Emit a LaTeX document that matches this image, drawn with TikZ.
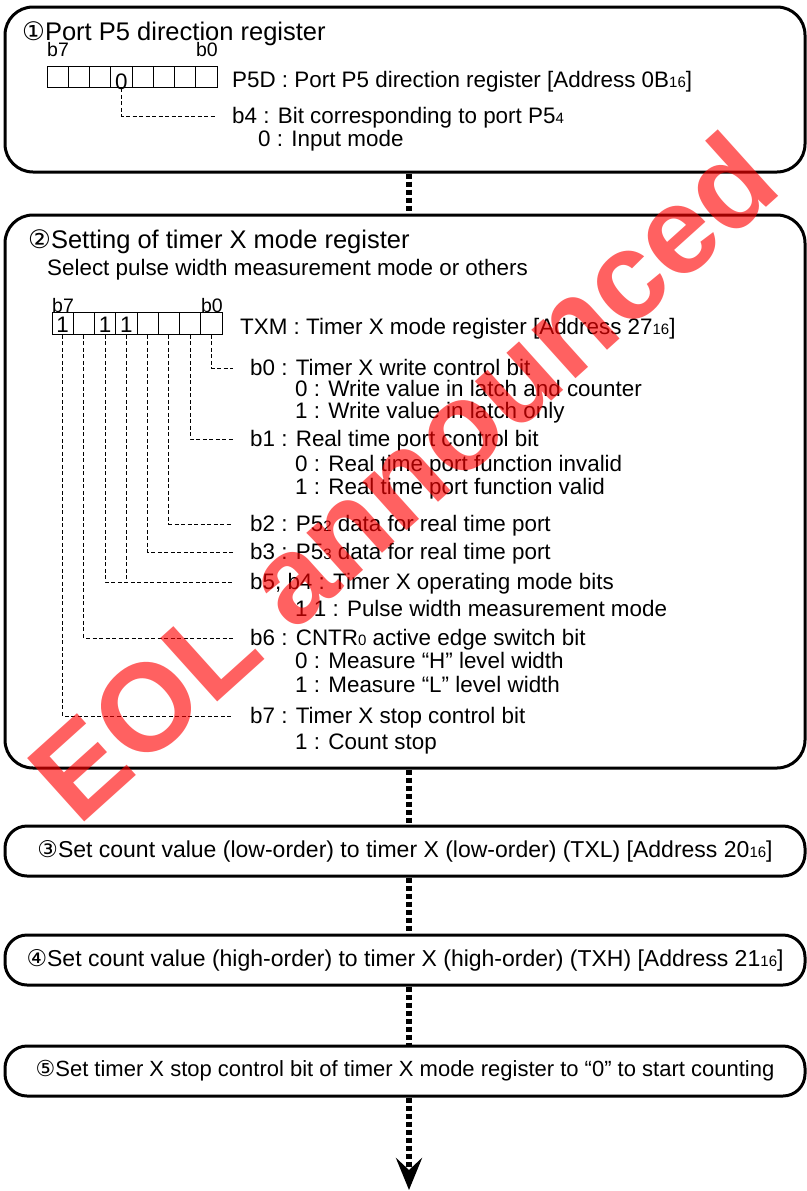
\documentclass[tikz,border=0pt]{standalone}
\usepackage{fontspec}
\setmainfont{Liberation Sans}
\newfontfamily\circfont{DejaVu Sans}
\usetikzlibrary{arrows.meta}
\newcommand{\lo}[1]{{\fontsize{15}{15}\selectfont #1}}
\newcommand{\cn}[1]{{\circfont #1}}

\begin{document}
\begin{tikzpicture}[x=1pt,y=-1pt,
    txt/.style={anchor=west,inner sep=0pt,text height=16pt,text depth=1pt,font=\fontsize{22.4}{26}\selectfont},
    tit/.style={anchor=base west,inner sep=0pt,font=\fontsize{25.5}{30}\selectfont},
    bitlab/.style={inner sep=0pt,font=\fontsize{19.5}{22}\selectfont},
    digit/.style={anchor=base,inner sep=0pt,font=\fontsize{22.4}{26}\selectfont},
    cell/.style={draw,line width=1pt,minimum width=21.25pt,minimum height=21.5pt,inner sep=0pt},
    regbox/.style={draw,line width=3pt,rounded corners=28pt,minimum width=800pt,inner sep=0pt},
    stepbox/.style={draw,line width=3pt,rounded corners=22pt,minimum width=800pt,minimum height=50pt,inner sep=0pt,font=\fontsize{23}{27}\selectfont},
    conn/.style={line width=0.9pt,dash pattern=on 4pt off 2.5pt,shorten >=17pt},
    flow/.style={line width=6pt,dash pattern=on 5pt off 3pt}]
        \useasboundingbox (0,0) rectangle (806,1191);
        \coordinate (axis) at (409,0);

        %riquadri
        \node[regbox,minimum height=165pt] (box1) at (405,89.5) {};
        \node[regbox,minimum height=553pt] (box2) at (405,491.5) {};
        \node[stepbox] (box3) at (405,851) {\cn{③}Set count value (low-order) to timer X (low-order) (TXL) [Address 20\lo{16}]};
        \node[stepbox] (box4) at (405,960) {\cn{④}Set count value (high-order) to timer X (high-order) (TXH) [Address 21\lo{16}]};
        \node[stepbox,font=\fontsize{22}{26}\selectfont] (box5) at (405,1071) {\cn{⑤}Set timer X stop control bit of timer X mode register to “0” to start counting};

        %frecce di flusso
        \draw[flow] (box1.south -| axis) -- (box2.north -| axis);
        \draw[flow] (box2.south -| axis) -- (box3.north -| axis);
        \draw[flow] (box3.south -| axis) -- (box4.north -| axis);
        \draw[flow] (box4.south -| axis) -- (box5.north -| axis);
        \coordinate (fine) at (409,1190);
        \draw[flow,-{Stealth[length=32pt,width=26pt,inset=12pt]}] (box5.south -| axis) -- (fine);

        %passo 1: registro P5D
        \node[tit] (t1) at (22,40) {\cn{①}Port P5 direction register};
        \node[bitlab,anchor=base west] (p5dhi) at (47,56) {b7};
        \node[bitlab,anchor=base east] (p5dlo) at (218,56) {b0};
        \foreach \b in {0,...,7}
            \node[cell] (p5d\b) at ({217-21.25*(\b+0.5)},77) {};
        \node[digit] (p5dv) at ([yshift=-12pt]p5d4.center) {0};
        \node[txt] (p5dname) at (232,79.5) {P5D : Port P5 direction register [Address 0B\lo{16}]};
        \node[txt] (p5db4) at (232,116) {b4 : Bit corresponding to port P5\lo{4}};
        \node[txt] (p5db4v) at (258,139) {0 : Input mode};
        \draw[conn] (p5d4.south) |- (p5db4.west);

        %passo 2: registro TXM
        \node[tit] (t2) at (28,248) {\cn{②}Setting of timer X mode register};
        \node[txt] (sel) at (47,268) {Select pulse width measurement mode or others};
        \node[bitlab,anchor=base west] (txmhi) at (52,312) {b7};
        \node[bitlab,anchor=base east] (txmlo) at (223,312) {b0};
        \foreach \b in {0,...,7}
            \node[cell] (txm\b) at ({222-21.25*(\b+0.5)},323.5) {};
        \foreach \b in {7,5,4}
            \node[digit] at ([yshift=-8.5pt]txm\b.center) {1};
        \node[txt] (txmname) at (240,327) {TXM : Timer X mode register [Address 27\lo{16}]};

        \node[txt] (lb0) at (250,368) {b0 : Timer X write control bit};
        \node[txt] at (295,389) {0 : Write value in latch and counter};
        \node[txt] at (295,411) {1 : Write value in latch only};
        \node[txt] (lb1) at (250,439) {b1 : Real time port control bit};
        \node[txt] at (295,464) {0 : Real time port function invalid};
        \node[txt] at (295,487) {1 : Real time port function valid};
        \node[txt] (lb2) at (250,524) {b2 : P5\lo{2} data for real time port};
        \node[txt] (lb3) at (250,552) {b3 : P5\lo{3} data for real time port};
        \node[txt] (lb54) at (250,582) {b5, b4 : Timer X operating mode bits};
        \node[txt] at (295,609) {1 1 : Pulse width measurement mode};
        \node[txt] (lb6) at (250,638) {b6 : CNTR\lo{0} active edge switch bit};
        \node[txt] at (295,661) {0 : Measure “H” level width};
        \node[txt] at (295,685) {1 : Measure “L” level width};
        \node[txt] (lb7) at (250,716) {b7 : Timer X stop control bit};
        \node[txt] at (295,742) {1 : Count stop};

        %linee dei bit
        \draw[conn] (txm0.south) |- (lb0.west);
        \draw[conn] (txm1.south) |- (lb1.west);
        \draw[conn] (txm2.south) |- (lb2.west);
        \draw[conn] (txm3.south) |- (lb3.west);
        \draw[conn] (txm5.south) |- (lb54.west);
        \draw[conn,shorten >=0pt] (txm4.south) -- (txm4.south |- lb54.west);
        \draw[conn] (txm6.south) |- (lb6.west);
        \draw[conn] (txm7.south) |- (lb7.west);

        %scritta sovrapposta
        \node[rotate=42,text=red,opacity=0.62,inner sep=0pt,font=\fontsize{124}{124}\bfseries\selectfont] (wm) at (402,476) {EOL announced};
\end{tikzpicture}
\end{document}
